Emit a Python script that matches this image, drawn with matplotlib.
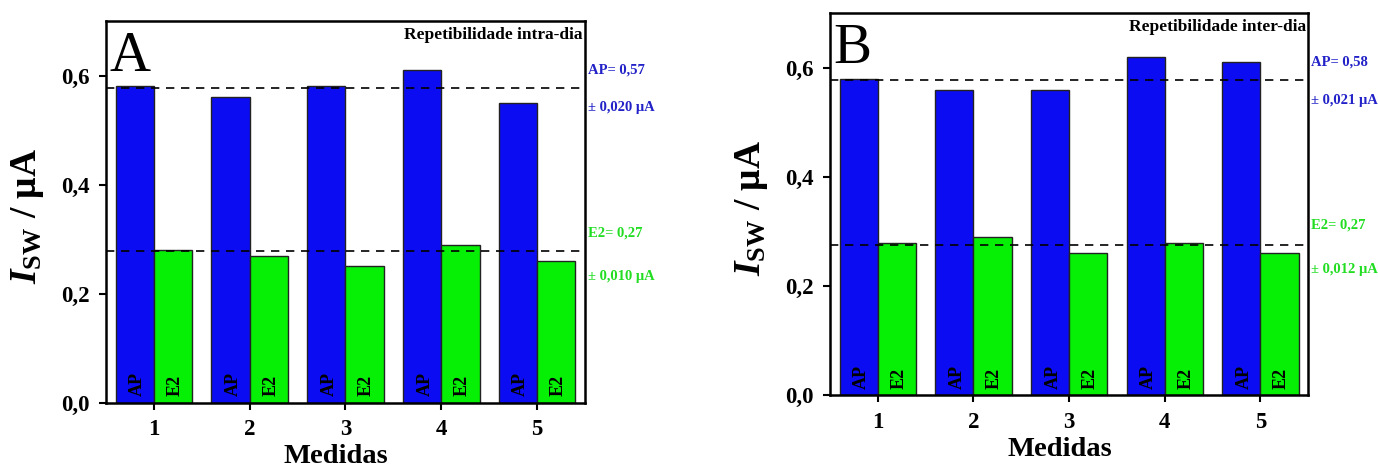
import numpy as np
import matplotlib
matplotlib.use('Agg')
import matplotlib.pyplot as plt
from matplotlib.ticker import FuncFormatter
import matplotlib.transforms as mtransforms

plt.rcParams['font.family'] = 'Liberation Serif'
plt.rcParams['font.weight'] = 'bold'
plt.rcParams['mathtext.fontset'] = 'custom'
plt.rcParams['mathtext.rm'] = 'Liberation Serif:bold'
plt.rcParams['mathtext.it'] = 'Liberation Serif:bold:italic'
plt.rcParams['mathtext.bf'] = 'Liberation Serif:bold'

# Measurements 1..5, currents in uA
medidas = [1, 2, 3, 4, 5]

ap_intra = [0.58, 0.56, 0.58, 0.61, 0.55]
e2_intra = [0.28, 0.27, 0.25, 0.29, 0.26]
mean_intra = [0.577, 0.278]          # dashed reference lines (AP, E2)
notes_intra = ['AP= 0,57', '± 0,020 μA', 'E2= 0,27', '± 0,010 μA']

ap_inter = [0.58, 0.56, 0.56, 0.62, 0.61]
e2_inter = [0.28, 0.29, 0.26, 0.28, 0.26]
mean_inter = [0.578, 0.275]
notes_inter = ['AP= 0,58', '± 0,021 μA', 'E2= 0,27', '± 0,012 μA']

titles = ['Repetibilidade intra-dia', 'Repetibilidade inter-dia']
letters = ['A', 'B']

blue = '#0c0cf2'
green = '#06f006'
note_blue = '#2222c8'
note_green = '#22dd22'

fig = plt.figure(figsize=(13.78, 4.68), dpi=100)
axA = fig.add_axes([0.0769, 0.1395, 0.3476, 0.8155])
axB = fig.add_axes([0.6023, 0.1553, 0.3471, 0.8163])

panels = [
    (axA, ap_intra, e2_intra, mean_intra, notes_intra),
    (axB, ap_inter, e2_inter, mean_inter, notes_inter),
]

x = np.array(medidas)
w = 0.4
comma = FuncFormatter(lambda v, p: ('%.1f' % v).replace('.', ','))

for k, (ax, ap, e2, means, notes) in enumerate(panels):
    ax.bar(x - w / 2, ap, w, color=blue, edgecolor='#222222', linewidth=1.0, zorder=2)
    ax.bar(x + w / 2, e2, w, color=green, edgecolor='#222222', linewidth=1.0, zorder=2)

    for xi in x:
        ax.text(xi - w / 2 + 0.03, 0.012, 'AP', rotation=90, ha='center', va='bottom',
                fontsize=13, fontweight='bold', zorder=3)
        ax.text(xi + w / 2 + 0.02, 0.012, 'E2', rotation=90, ha='center', va='bottom',
                fontsize=13, fontweight='bold', zorder=3)

    for m in means:
        ax.axhline(m, color='black', linestyle=(0, (5, 4)), linewidth=1.2, zorder=4)

    ax.set_xlim(0.5, 5.5)
    ax.set_ylim(0, 0.70)
    ax.set_xticks(x)
    ax.set_yticks([0.0, 0.2, 0.4, 0.6])
    ax.yaxis.set_major_formatter(comma)
    ax.tick_params(direction='out', length=5, width=1.5, labelsize=16.5, pad=7,
                   top=False, right=False)
    for s in ax.spines.values():
        s.set_linewidth(1.8)

    ax.set_xlabel('Medidas', fontsize=20.5, fontweight='bold')
    ax.xaxis.set_label_coords(0.48, -0.108)
    ax.set_ylabel(r'$I_{\mathrm{SW}}$ / μA', fontsize=27, fontweight='bold')
    ax.yaxis.set_label_coords(-0.125, 0.49)

    ax.text(0.995, 0.985, titles[k], transform=ax.transAxes, ha='right', va='top',
            fontsize=12.5, fontweight='bold')
    ax.text(0.008, 0.975, letters[k], transform=ax.transAxes, ha='left', va='top',
            fontsize=41, fontweight='normal')

    trans = mtransforms.blended_transform_factory(ax.transAxes, ax.transData)
    note_y = [0.61, 0.541, 0.312, 0.231]
    note_c = [note_blue, note_blue, note_green, note_green]
    for t, yy, c in zip(notes, note_y, note_c):
        ax.text(1.006, yy, t, transform=trans, ha='left', va='center',
                fontsize=10.5, fontweight='bold', color=c)

fig.savefig('out.png', dpi=100)
